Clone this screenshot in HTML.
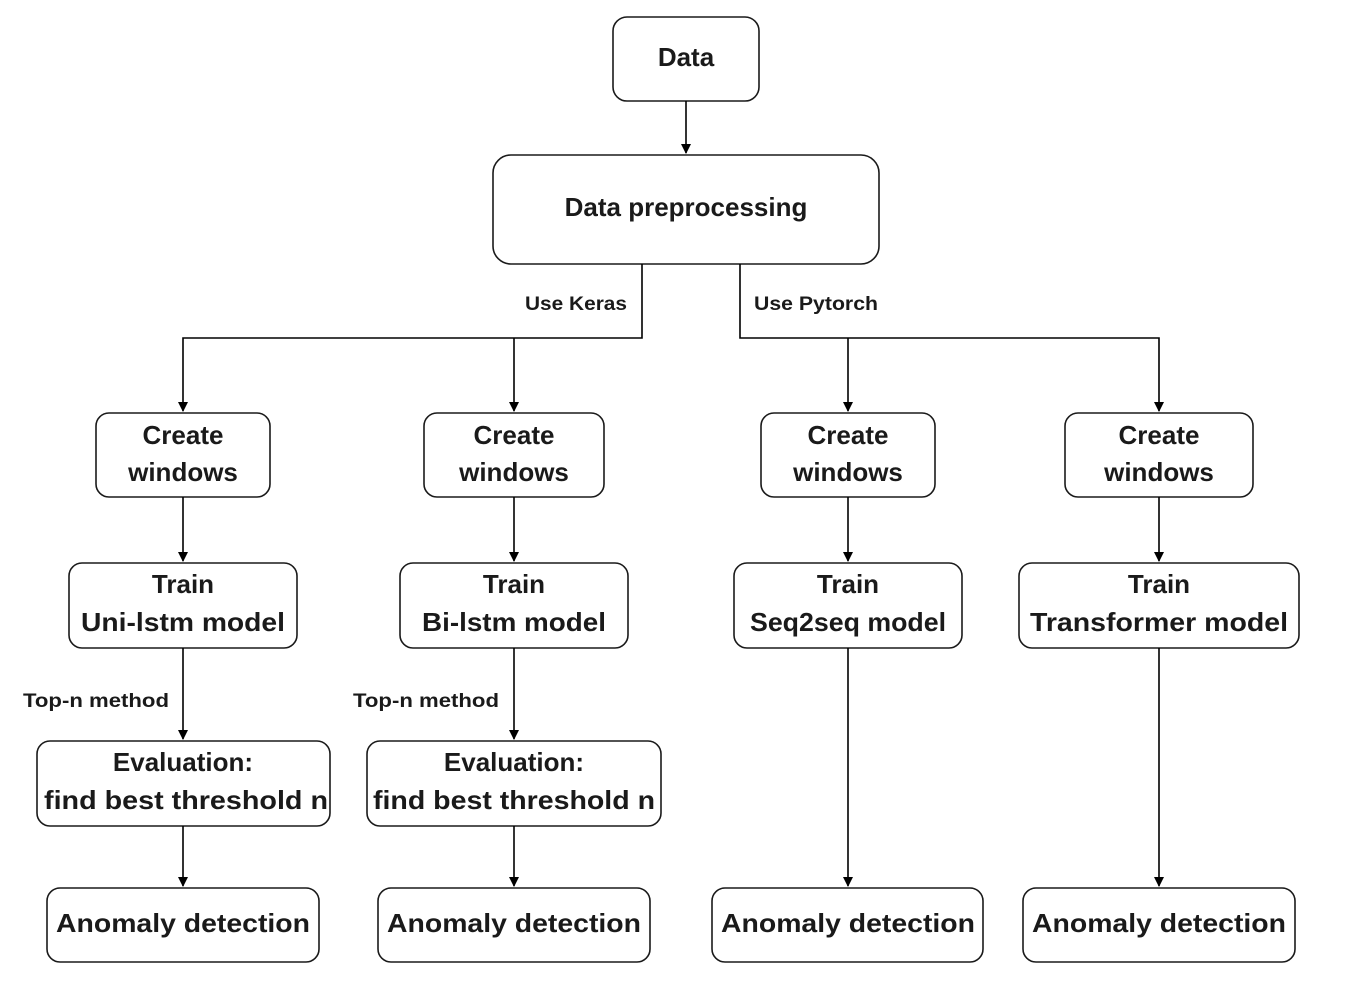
<!DOCTYPE html>
<html><head><meta charset="utf-8"><style>
html,body{margin:0;padding:0;background:#fff;}
svg{display:block;}
text{font-family:"Liberation Sans","DejaVu Sans",sans-serif;font-weight:bold;fill:#1a1a1a;}
.b{fill:#fff;stroke:#1a1a1a;stroke-width:1.6;}
.l{stroke:#000;stroke-width:1.6;fill:none;}
</style></head><body>
<svg width="1372" height="982" viewBox="0 0 1372 982" xmlns="http://www.w3.org/2000/svg">
<defs><marker id="a" markerWidth="10" markerHeight="10" refX="9" refY="5" orient="auto" markerUnits="userSpaceOnUse"><path d="M0,0 L10,5 L0,10 Z" fill="#000"/></marker></defs>
<!-- boxes -->
<rect class="b" x="613" y="17" width="146" height="84" rx="14"/>
<rect class="b" x="493" y="155" width="386" height="109" rx="18"/>
<rect class="b" x="96" y="413" width="174" height="84" rx="13"/>
<rect class="b" x="424" y="413" width="180" height="84" rx="13"/>
<rect class="b" x="761" y="413" width="174" height="84" rx="13"/>
<rect class="b" x="1065" y="413" width="188" height="84" rx="13"/>
<rect class="b" x="69" y="563" width="228" height="85" rx="13"/>
<rect class="b" x="400" y="563" width="228" height="85" rx="13"/>
<rect class="b" x="734" y="563" width="228" height="85" rx="13"/>
<rect class="b" x="1019" y="563" width="280" height="85" rx="13"/>
<rect class="b" x="37" y="741" width="293" height="85" rx="13"/>
<rect class="b" x="367" y="741" width="294" height="85" rx="13"/>
<rect class="b" x="47" y="888" width="272" height="74" rx="13"/>
<rect class="b" x="378" y="888" width="272" height="74" rx="13"/>
<rect class="b" x="712" y="888" width="271" height="74" rx="13"/>
<rect class="b" x="1023" y="888" width="272" height="74" rx="13"/>
<!-- connectors -->
<path class="l" d="M686,101 V153" marker-end="url(#a)"/>
<path class="l" d="M642,264 V338 H183 V411" marker-end="url(#a)"/>
<path class="l" d="M514,338 V411" marker-end="url(#a)"/>
<path class="l" d="M740,264 V338 H1159 V411" marker-end="url(#a)"/>
<path class="l" d="M848,338 V411" marker-end="url(#a)"/>
<path class="l" d="M183,497 V561" marker-end="url(#a)"/>
<path class="l" d="M514,497 V561" marker-end="url(#a)"/>
<path class="l" d="M848,497 V561" marker-end="url(#a)"/>
<path class="l" d="M1159,497 V561" marker-end="url(#a)"/>
<path class="l" d="M183,648 V739" marker-end="url(#a)"/>
<path class="l" d="M514,648 V739" marker-end="url(#a)"/>
<path class="l" d="M183,826 V886" marker-end="url(#a)"/>
<path class="l" d="M514,826 V886" marker-end="url(#a)"/>
<path class="l" d="M848,648 V886" marker-end="url(#a)"/>
<path class="l" d="M1159,648 V886" marker-end="url(#a)"/>
<!-- texts -->
<g font-size="26" text-anchor="middle">
<text x="686" y="66">Data</text>
<text x="686" y="216">Data preprocessing</text>
<text x="183" y="444">Create</text><text x="183" y="481">windows</text>
<text x="514" y="444">Create</text><text x="514" y="481">windows</text>
<text x="848" y="444">Create</text><text x="848" y="481">windows</text>
<text x="1159" y="444">Create</text><text x="1159" y="481">windows</text>
<text x="183" y="593">Train</text><text x="183" y="631" textLength="204" lengthAdjust="spacingAndGlyphs">Uni-lstm model</text>
<text x="514" y="593">Train</text><text x="514" y="631" textLength="184" lengthAdjust="spacingAndGlyphs">Bi-lstm model</text>
<text x="848" y="593">Train</text><text x="848" y="631" textLength="196" lengthAdjust="spacingAndGlyphs">Seq2seq model</text>
<text x="1159" y="593">Train</text><text x="1159" y="631" textLength="258" lengthAdjust="spacingAndGlyphs">Transformer model</text>
<text x="183" y="771">Evaluation:</text><text x="186" y="809" textLength="284" lengthAdjust="spacingAndGlyphs">find best threshold n</text>
<text x="514" y="771">Evaluation:</text><text x="514" y="809" textLength="282" lengthAdjust="spacingAndGlyphs">find best threshold n</text>
<text x="183" y="932" textLength="254" lengthAdjust="spacingAndGlyphs">Anomaly detection</text>
<text x="514" y="932" textLength="254" lengthAdjust="spacingAndGlyphs">Anomaly detection</text>
<text x="848" y="932" textLength="254" lengthAdjust="spacingAndGlyphs">Anomaly detection</text>
<text x="1159" y="932" textLength="254" lengthAdjust="spacingAndGlyphs">Anomaly detection</text>
</g>
<g font-size="19">
<text x="525" y="310" textLength="102" lengthAdjust="spacingAndGlyphs">Use Keras</text>
<text x="754" y="310" textLength="124" lengthAdjust="spacingAndGlyphs">Use Pytorch</text>
<text x="23" y="707" textLength="146" lengthAdjust="spacingAndGlyphs">Top-n method</text>
<text x="353" y="707" textLength="146" lengthAdjust="spacingAndGlyphs">Top-n method</text>
</g>
</svg>
</body></html>
